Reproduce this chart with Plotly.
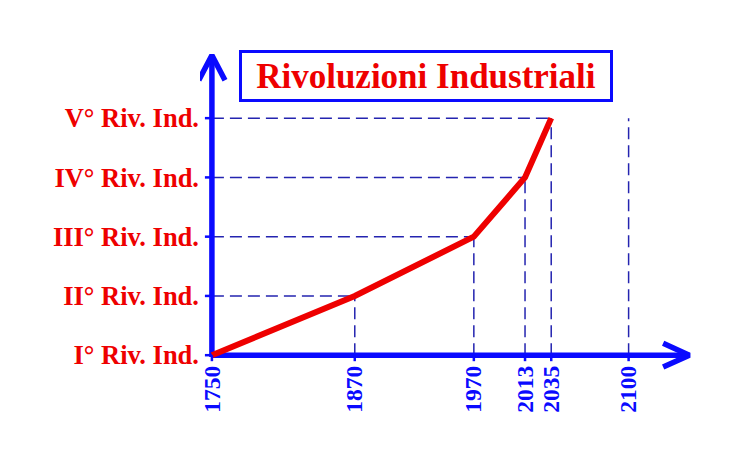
import plotly.graph_objects as go

# Data
years = [1750, 1870, 1970, 2013, 2035]
levels = [1, 2, 3, 4, 5]
level_labels = ["I° Riv. Ind.", "II° Riv. Ind.", "III° Riv. Ind.", "IV° Riv. Ind.", "V° Riv. Ind."]
x_ticks = [1750, 1870, 1970, 2013, 2035, 2100]
extra_year = 2100
title_text = "Rivoluzioni Industriali"

BLUE = "#0a0aff"
DASH_BLUE = "#2424b0"
RED = "#ee0000"
SERIF = "Liberation Serif, Times New Roman, serif"

X0, Y0 = 1750, 1
XR = [1740, 2165]
YR = [0.75, 6.15]
X_TIP, Y_TIP = 2151, 6.06

fig = go.Figure()

dash_line = dict(color=DASH_BLUE, width=1.5, dash="12px,6px")
shapes = []
for xv, yv in zip(years[1:], levels[1:]):
    shapes.append(dict(type="line", x0=X0, x1=xv, y0=yv, y1=yv, line=dash_line, layer="below"))
    shapes.append(dict(type="line", x0=xv, x1=xv, y0=Y0, y1=yv, line=dash_line, layer="below"))
shapes.append(dict(type="line", x0=extra_year, x1=extra_year, y0=Y0, y1=levels[-1],
                   line=dash_line, layer="below"))
# small ticks on the axes
for yv in levels:
    shapes.append(dict(type="line", xref="x", yref="y", xsizemode="pixel", xanchor=X0,
                       x0=-7, x1=0, y0=yv, y1=yv, line=dict(color=BLUE, width=2.5)))
for xv in x_ticks:
    shapes.append(dict(type="line", xref="x", yref="y", ysizemode="pixel", yanchor=Y0,
                       y0=-6, y1=0, x0=xv, x1=xv, line=dict(color=BLUE, width=2.5)))

# axes with open arrowheads
fig.add_trace(go.Scatter(x=[X0, X_TIP], y=[Y0, Y0], mode="lines",
                         line=dict(color=BLUE, width=5.5), hoverinfo="skip"))
fig.add_trace(go.Scatter(x=[X_TIP - 22, X_TIP, X_TIP - 22], y=[Y0 + 0.2, Y0, Y0 - 0.2],
                         mode="lines", line=dict(color=BLUE, width=5.5), hoverinfo="skip"))
fig.add_trace(go.Scatter(x=[X0, X0], y=[Y0 - 0.03, Y_TIP], mode="lines",
                         line=dict(color=BLUE, width=5.5), hoverinfo="skip"))
fig.add_trace(go.Scatter(x=[X0 - 11, X0, X0 + 11], y=[Y_TIP - 0.42, Y_TIP, Y_TIP - 0.42],
                         mode="lines", line=dict(color=BLUE, width=5.5), hoverinfo="skip"))

# main red line
fig.add_trace(go.Scatter(x=years, y=levels, mode="lines",
                         line=dict(color=RED, width=6), hoverinfo="skip"))

# page body has an 8px margin, so the figure is drawn 8px smaller and offset
fig.update_layout(
    width=735, height=464,
    margin=dict(l=192, r=37, t=42, b=102, autoexpand=False),
    paper_bgcolor="white", plot_bgcolor="white",
    showlegend=False,
    shapes=shapes,
    xaxis=dict(range=XR, tickvals=x_ticks, ticktext=[str(v) for v in x_ticks],
               tickangle=-90, showgrid=False, zeroline=False, showline=False,
               ticks="", automargin=False, anchor="free", position=0.031,
               tickfont=dict(family=SERIF, size=23.5, color=BLUE, weight="bold")),
    yaxis=dict(range=YR, tickvals=levels, ticktext=level_labels,
               showgrid=False, zeroline=False, showline=False,
               ticks="", automargin=False,
               tickfont=dict(family=SERIF, size=26.5, color=RED, weight="bold")),
    annotations=[dict(text=title_text, xref="paper", yref="paper", x=0.4466,
                      y=(464 - 102 - 68) / 320.0,
                      xanchor="center", yanchor="middle", showarrow=False,
                      width=364, height=42,
                      font=dict(family=SERIF, size=35, color=RED, weight="bold"),
                      bordercolor=BLUE, borderwidth=3, borderpad=2, bgcolor="white")],
)

fig.write_html("out.html")
